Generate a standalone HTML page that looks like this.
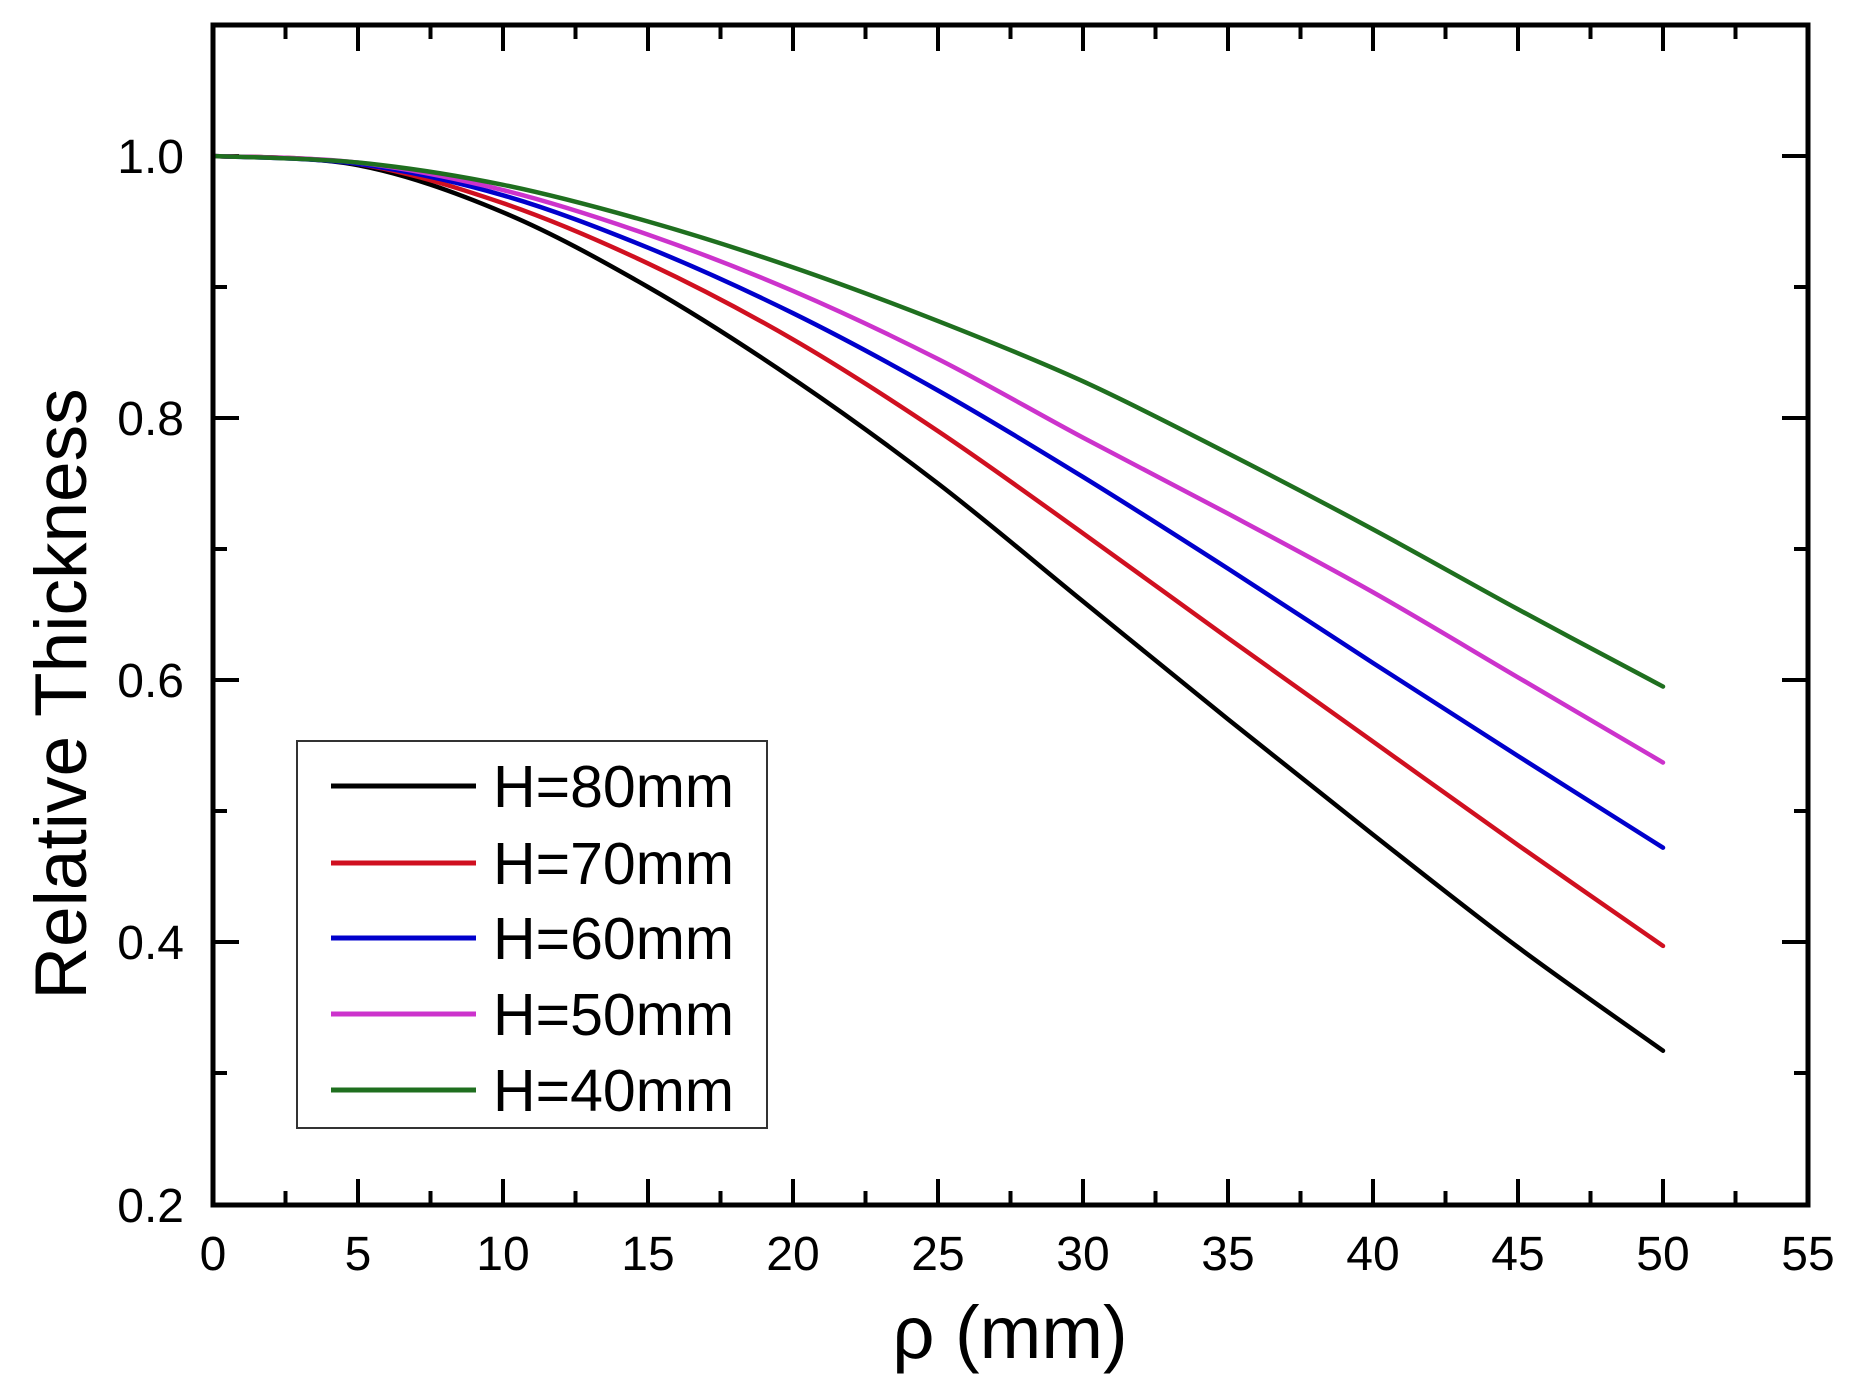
<!DOCTYPE html>
<html><head><meta charset="utf-8"><style>
html,body{margin:0;padding:0;background:#fff;}
svg{display:block;}
text{font-family:"Liberation Sans",Arial,sans-serif;fill:#000;}
</style></head><body>
<svg id="s" width="1866" height="1382" viewBox="0 0 1866 1382" xmlns="http://www.w3.org/2000/svg">
<g id="ticks" stroke="#000" stroke-width="4"></g>
<g id="curves" fill="none" stroke-width="4.5" stroke-linejoin="round" stroke-linecap="round"></g>
<rect x="213" y="25" width="1595" height="1180" fill="none" stroke="#000" stroke-width="5"/>
<g font-size="48" text-anchor="end">
<text x="184" y="173">1.0</text>
<text x="184" y="435">0.8</text>
<text x="184" y="697">0.6</text>
<text x="184" y="959">0.4</text>
<text x="184" y="1222">0.2</text>
</g>
<g font-size="48" text-anchor="middle" id="xl"></g>
<text x="0" y="0" font-size="73" text-anchor="middle" transform="translate(86,694) rotate(-90)">Relative Thickness</text>
<text x="1010" y="1358" font-size="74" text-anchor="middle">ρ (mm)</text>
<rect x="297" y="741" width="470" height="387" fill="#fff" stroke="#333" stroke-width="2"/>
<g stroke-width="5">
<line x1="331" y1="786" x2="476" y2="786" stroke="#000"/>
<line x1="331" y1="863" x2="476" y2="863" stroke="#d01020"/>
<line x1="331" y1="938" x2="476" y2="938" stroke="#0000cc"/>
<line x1="331" y1="1014" x2="476" y2="1014" stroke="#cc33cc"/>
<line x1="331" y1="1090" x2="476" y2="1090" stroke="#1f6f1f"/>
</g>
<g font-size="59">
<text x="493" y="807">H=80mm</text>
<text x="493" y="884">H=70mm</text>
<text x="493" y="959">H=60mm</text>
<text x="493" y="1035">H=50mm</text>
<text x="493" y="1111">H=40mm</text>
</g>
</svg>
<script>
var X=function(x){return 213+29*x;}, Y=function(y){return 156+(1-y)*1310;};
var NS="http://www.w3.org/2000/svg";
var t=document.getElementById('ticks');
function ln(g,a,b,c,d){var l=document.createElementNS(NS,'line');l.setAttribute('x1',a);l.setAttribute('y1',b);l.setAttribute('x2',c);l.setAttribute('y2',d);g.appendChild(l);}
for(var i=1;i<22;i++){var x=X(i*2.5),L=(i%2==0)?26:14;ln(t,x,1205,x,1205-L);ln(t,x,25,x,25+L);}
for(var i=1;i<9;i++){var y=Y(0.2+i*0.1),L=(i%2==0)?26:14;ln(t,213,y,213+L,y);ln(t,1808,y,1808-L,y);}
var xl=document.getElementById('xl');
for(var i=0;i<=11;i++){var tx=document.createElementNS(NS,'text');tx.setAttribute('x',X(i*5));tx.setAttribute('y',1270);tx.textContent=i*5;xl.appendChild(tx);}
var xs=[0,5,10,15,20,25,30,35,40,45,50];
var data=[
["#000",[1,0.993,0.957,0.900,0.830,0.750,0.660,0.570,0.482,0.396,0.317]],
["#d01020",[1,0.994,0.964,0.918,0.860,0.790,0.712,0.632,0.553,0.474,0.397]],
["#0000cc",[1,0.994,0.970,0.930,0.880,0.821,0.755,0.685,0.613,0.542,0.472]],
["#cc33cc",[1,0.995,0.974,0.940,0.897,0.845,0.785,0.727,0.667,0.602,0.537]],
["#1f6f1f",[1,0.995,0.978,0.950,0.915,0.874,0.828,0.773,0.715,0.654,0.595]]];
var c=document.getElementById('curves');
data.forEach(function(d){
 var p=xs.map(function(x,i){return [X(x),Y(d[1][i])];});
 var s="M"+p[0][0]+","+p[0][1];
 for(var i=0;i<p.length-1;i++){
  var p0=p[Math.max(i-1,0)],p1=p[i],p2=p[i+1],p3=p[Math.min(i+2,p.length-1)];
  var c1=[p1[0]+(p2[0]-p0[0])/6,p1[1]+(p2[1]-p0[1])/6],c2=[p2[0]-(p3[0]-p1[0])/6,p2[1]-(p3[1]-p1[1])/6];
  s+=" C"+c1+" "+c2+" "+p2;
 }
 var e=document.createElementNS(NS,'path');e.setAttribute('d',s);e.setAttribute('stroke',d[0]);c.appendChild(e);
});
</script>
</body></html>
